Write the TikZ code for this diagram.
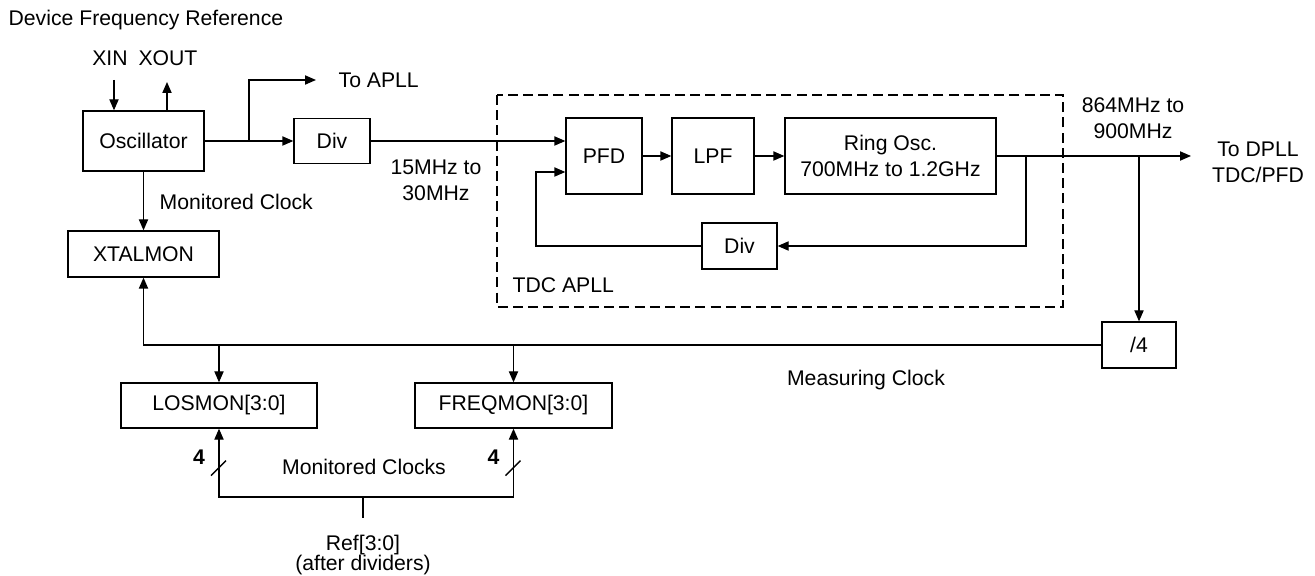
\documentclass[tikz,border=0pt]{standalone}
\usepackage{fontspec}
\setmainfont{Liberation Sans}
\usepackage{xcolor}
\usepackage{tikz}
\usetikzlibrary{arrows.meta}
\usetikzlibrary{calc}

\begin{document}
\begin{tikzpicture}[x=0.5pt, y=-0.5pt, line width=0.65pt,
    font=\fontsize{10.6}{13}\selectfont,
    blk/.style={draw, line width=0.65pt, inner sep=0pt},
    arr/.style={-{Triangle[length=5.5pt, width=4.6pt]}},
    lbl/.style={align=center, inner sep=0pt}]
  \useasboundingbox (0,0) rectangle (1315,576);
  \node[anchor=west, inner sep=0pt] (title) at (8,20) {Device Frequency Reference};

  % blocks
  \node[blk, minimum width=60.5pt, minimum height=30pt] (osc) at (143.5,141) {Oscillator};
  \node[blk, minimum width=75.5pt, minimum height=23pt] (xtal) at (143.5,254) {XTALMON};
  \node[blk, minimum width=38pt, minimum height=22.5pt] (div1) at (332,141) {Div};
  \node[blk, minimum width=38pt, minimum height=38pt] (pfd) at (604,156) {PFD};
  \node[blk, minimum width=41pt, minimum height=38pt] (lpf) at (713,156) {LPF};
  \node[blk, minimum width=105.5pt, minimum height=38pt, align=center] (ring) at (890.5,156)
    {Ring Osc.\\700MHz to 1.2GHz};
  \node[blk, minimum width=37.5pt, minimum height=23pt] (div2) at (739.5,246) {Div};
  \node[blk, minimum width=37pt, minimum height=23pt] (quart) at (1139,345) {/4};
  \node[blk, minimum width=98pt, minimum height=22.5pt] (los) at (219,405.5) {LOSMON[3:0]};
  \node[blk, minimum width=98.5pt, minimum height=22.5pt] (freq) at (513.5,405.5) {FREQMON[3:0]};
  \draw[line width=1pt, dash pattern=on 5pt off 2.6pt] (497,95) rectangle (1063,307);

  % labels
  \node[lbl] (xinl) at (110,58) {XIN};
  \node[lbl] (xoutl) at (168,58) {XOUT};
  \node[lbl, anchor=west] (apll) at (338,80) {To APLL};
  \node[lbl] (fin) at (436,180) {15MHz to\\30MHz};
  \node[lbl] (fout) at (1133,118.5) {864MHz to\\900MHz};
  \node[lbl] (dpll) at (1258,162.5) {To DPLL\\TDC/PFD};
  \node[lbl, anchor=west] (tdc) at (512,285) {TDC APLL};
  \node[lbl, anchor=west] (monl) at (159,202) {Monitored Clock};
  \node[lbl] (meas) at (866,380) {Measuring Clock};
  \node[lbl] (mons) at (364,467) {Monitored Clocks};
  \node[lbl, font=\fontsize{10.6}{10}\selectfont] (ref) at (363,555) {Ref[3:0]\\(after dividers)};

  % connectors
  \coordinate (xin) at (114,80);
  \coordinate (xout) at (167,82);
  \coordinate (br1) at (249,141);
  \coordinate (toapll) at (316,80);
  \coordinate (fbin) at (536,172);
  \coordinate (fbout) at (1026,156);
  \coordinate (todpll) at (1191,156);
  \coordinate (br2) at (1139,156);
  \coordinate (bus) at (363,497);
  \coordinate (busin) at (363,518);
  \draw[arr] (xin) -- (xin |- osc.north);
  \draw[arr] (xout |- osc.north) -- (xout);
  \draw[arr] (osc.east) -- (div1.west);
  \draw[arr] (br1) |- (toapll);
  \draw[arr] (div1.east) -- (div1.east -| pfd.west);
  \draw[arr] (pfd) -- (lpf);
  \draw[arr] (lpf) -- (ring);
  \draw[arr] (ring.east) -- (todpll);
  \draw[arr] (fbout) |- (div2.east);
  \draw[arr] (div2.west) -| (fbin) -- (fbin -| pfd.west);
  \draw[arr] (br2) -- (quart.north);
  \draw[arr] (quart.west) -| (xtal.south);
  \draw[arr] (osc.south) -- (xtal.north);
  \foreach \b in {los, freq}{
    \draw[arr] (\b.north |- quart.west) -- (\b.north);
    \draw[arr] (bus) -| (\b.south);
    \draw ($(\b.south)+(-8,47)$) -- ++(15,-15);
    \node[lbl, font=\fontsize{10.6}{13}\selectfont\bfseries] at ($(\b.south)+(-20,29)$) {4};}
  \draw (bus) -- (busin);
\end{tikzpicture}
\end{document}
